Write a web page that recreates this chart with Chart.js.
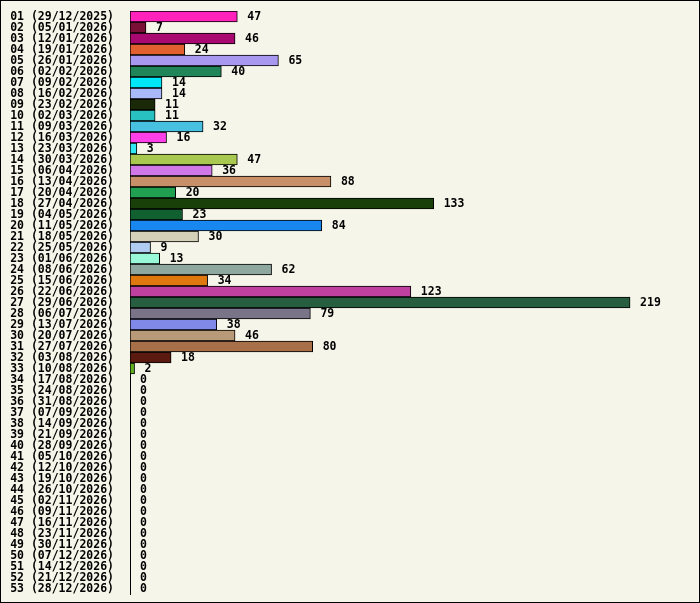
<!DOCTYPE html>
<html>
<head>
<meta charset="utf-8">
<script src="https://cdn.jsdelivr.net/npm/chart.js@4"></script>
<style>
  html, body { margin: 0; padding: 0; background: #f5f5e9; }
  #wrap {
    width: 700px; height: 603px; box-sizing: border-box;
    border: 1px solid #000; background: #f5f5e9;
  }
  canvas { display: block; }
</style>
</head>
<body>
<div id="wrap"><canvas id="weekChart" width="698" height="601"></canvas></div>
<script>
// 周序号和起始日期
const weekLabels = [
    '01 (29/12/2025)', '02 (05/01/2026)', '03 (12/01/2026)', '04 (19/01/2026)',
    '05 (26/01/2026)', '06 (02/02/2026)', '07 (09/02/2026)', '08 (16/02/2026)',
    '09 (23/02/2026)', '10 (02/03/2026)', '11 (09/03/2026)', '12 (16/03/2026)',
    '13 (23/03/2026)', '14 (30/03/2026)', '15 (06/04/2026)', '16 (13/04/2026)',
    '17 (20/04/2026)', '18 (27/04/2026)', '19 (04/05/2026)', '20 (11/05/2026)',
    '21 (18/05/2026)', '22 (25/05/2026)', '23 (01/06/2026)', '24 (08/06/2026)',
    '25 (15/06/2026)', '26 (22/06/2026)', '27 (29/06/2026)', '28 (06/07/2026)',
    '29 (13/07/2026)', '30 (20/07/2026)', '31 (27/07/2026)', '32 (03/08/2026)',
    '33 (10/08/2026)', '34 (17/08/2026)', '35 (24/08/2026)', '36 (31/08/2026)',
    '37 (07/09/2026)', '38 (14/09/2026)', '39 (21/09/2026)', '40 (28/09/2026)',
    '41 (05/10/2026)', '42 (12/10/2026)', '43 (19/10/2026)', '44 (26/10/2026)',
    '45 (02/11/2026)', '46 (09/11/2026)', '47 (16/11/2026)', '48 (23/11/2026)',
    '49 (30/11/2026)', '50 (07/12/2026)', '51 (14/12/2026)', '52 (21/12/2026)',
    '53 (28/12/2026)'
];

// 每周数量
const weekCounts = [
    47, 7, 46, 24, 65, 40, 14, 14, 11, 11, 32, 16, 3, 47, 36, 88,
    20, 133, 23, 84, 30, 9, 13, 62, 34, 123, 219, 79, 38, 46, 80, 18,
    2, 0, 0, 0, 0, 0, 0, 0, 0, 0, 0, 0, 0, 0, 0, 0, 0, 0, 0, 0, 0
];

// 每根柱子的颜色
const barColors = [
    '#ff22bb', '#7a1035', '#a80870', '#e06030', '#a898f0', '#208558', '#00e8f8', '#a8b8f8',
    '#1a2a08', '#28c0c0', '#48c0e0', '#ff40e8', '#30e8f0', '#a8c850', '#d078e8', '#c89068',
    '#20a050', '#184008', '#106030', '#1888f0', '#d5d0b8', '#b0ccf0', '#98f8d8', '#8ea8a0',
    '#e07810', '#c040a0', '#285e40', '#7a7488', '#8088e8', '#b89a78', '#a87048', '#5a1a10',
    '#60b020', '#888888', '#888888', '#888888', '#888888', '#888888', '#888888', '#888888',
    '#888888', '#888888', '#888888', '#888888', '#888888', '#888888', '#888888', '#888888',
    '#888888', '#888888', '#888888', '#888888', '#888888'
];

const monoFont = { family: "'DejaVu Sans Mono', monospace", size: 11.5, weight: 'bold' };

// 在柱子右侧写数值
const valueLabels = {
    id: 'valueLabels',
    afterDatasetsDraw(chart) {
        const ctx = chart.ctx;
        const meta = chart.getDatasetMeta(0);
        ctx.save();
        ctx.font = `bold ${monoFont.size}px ${monoFont.family}`;
        ctx.fillStyle = '#000';
        ctx.textAlign = 'left';
        ctx.textBaseline = 'middle';
        meta.data.forEach((bar, i) => {
            ctx.fillText(String(weekCounts[i]), bar.x + 10, bar.y + 1);
        });
        ctx.restore();
    }
};

new Chart(document.getElementById('weekChart'), {
    type: 'bar',
    data: {
        labels: weekLabels,
        datasets: [{
            data: weekCounts,
            backgroundColor: barColors,
            borderColor: '#000',
            borderWidth: 1,
            borderSkipped: false,
            categoryPercentage: 1,
            barPercentage: 1
        }]
    },
    options: {
        indexAxis: 'y',
        responsive: false,
        animation: false,
        events: [],
        layout: { padding: { top: 10, bottom: 8, left: 0, right: 21 } },
        plugins: {
            legend: { display: false },
            tooltip: { enabled: false }
        },
        scales: {
            x: {
                display: false,
                min: 0,
                max: 240
            },
            y: {
                afterFit(scale) {
                    // 固定轴宽，去掉首尾标签的额外留白
                    scale.width = 129;
                    scale.paddingTop = 0;
                    scale.paddingBottom = 0;
                },
                grid: { display: false, drawTicks: false },
                border: { display: true, color: '#000', width: 1 },
                ticks: {
                    color: '#000',
                    font: monoFont,
                    padding: 16,
                    labelOffset: 1,
                    autoSkip: false
                }
            }
        }
    },
    plugins: [valueLabels]
});
</script>
</body>
</html>
